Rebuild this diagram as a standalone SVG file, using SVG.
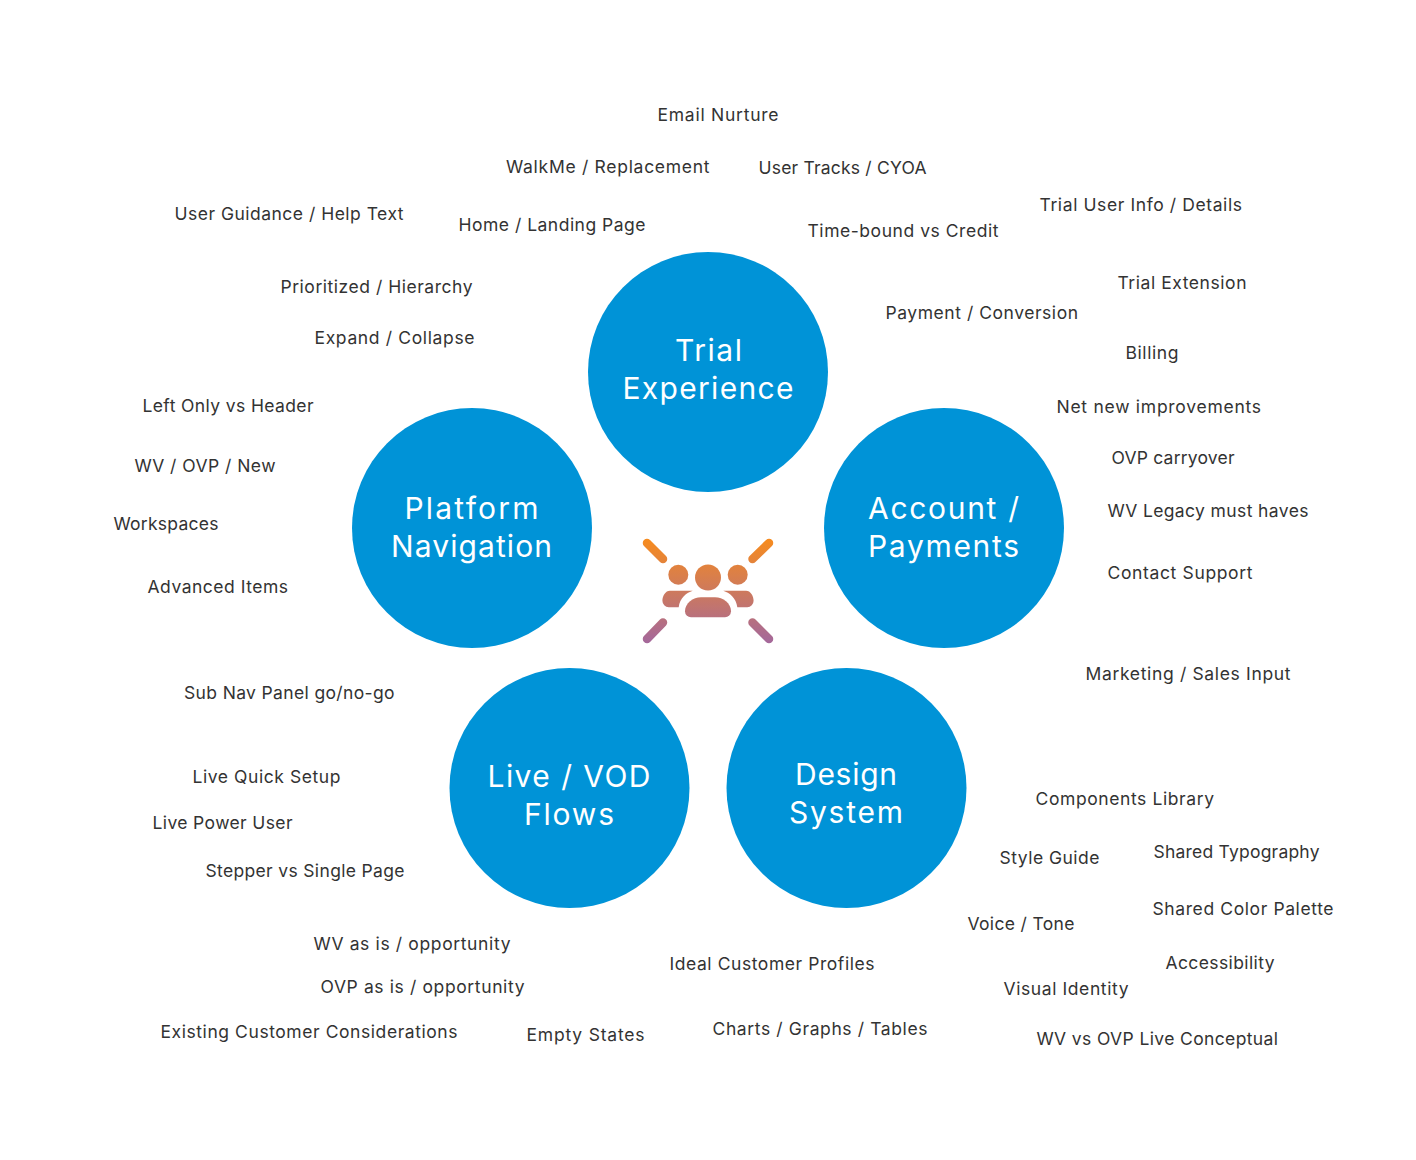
<svg xmlns="http://www.w3.org/2000/svg" width="1416" height="1160" viewBox="0 0 1416 1160">
<style>
.n{fill:#0093d7}
.t{font-family:"Inter","Open Sans","Liberation Sans",sans-serif;font-size:30px;fill:#fff;text-anchor:middle;font-weight:400}
.l{font-family:"Inter","Open Sans","Liberation Sans",sans-serif;font-size:17.5px;fill:#333;font-weight:400}
.s{fill:none;stroke:url(#g);stroke-width:8.500;stroke-linecap:round}
</style>
<defs><linearGradient id="g" gradientUnits="userSpaceOnUse" x1="708" y1="540" x2="708" y2="642"><stop offset="0" stop-color="#f68b1f"/><stop offset="1" stop-color="#a5689a"/></linearGradient></defs>
<rect width="1416" height="1160" fill="#fff"/>
<g id="connectors"></g>
<g id="node-trial"><circle class="n" cx="708" cy="372" r="120"/><text class="t" x="708.500" y="361" textLength="67">Trial</text><text class="t" x="708" y="399" textLength="171">Experience</text></g>
<g id="node-account"><circle class="n" cx="944" cy="528" r="120"/><text class="t" x="943.500" y="519" textLength="151">Account /</text><text class="t" x="943.500" y="557" textLength="151">Payments</text></g>
<g id="node-platform"><circle class="n" cx="472" cy="528" r="120"/><text class="t" x="471.500" y="519" textLength="134">Platform</text><text class="t" x="471.500" y="557" textLength="161">Navigation</text></g>
<g id="node-live"><circle class="n" cx="569.500" cy="788" r="120"/><text class="t" x="569" y="787" textLength="163">Live / VOD</text><text class="t" x="569" y="825" textLength="90">Flows</text></g>
<g id="node-design"><circle class="n" cx="846.500" cy="788" r="120"/><text class="t" x="846" y="785" textLength="102">Design</text><text class="t" x="846" y="823" textLength="114">System</text></g>
<g id="icon">
<path class="s" d="M647 543L663 559M769 543L752.500 559M663 622.500L647 639M752.500 622.500L769 639"/>
<g fill="url(#g)"><circle cx="708" cy="577.500" r="13"/><circle cx="678.300" cy="574.700" r="10"/><circle cx="737.700" cy="574.700" r="10"/>
<path d="M691 617.300a6 6 0 0 1-6-6c0-8 8-14 16-14h14c8 0 16 6 16 14a6 6 0 0 1-6 6z"/>
<path d="M670 590.700h22.700c-6 2-13 7-14 16.600h-10a6.500 6.500 0 0 1-6.300-6.500c0-5 3-10.100 7.600-10.100z"/>
<path d="M746 590.700h-22.700c6 2 13 7 14 16.600h10a6.500 6.500 0 0 0 6.300-6.500c0-5-3-10.100-7.600-10.100z"/></g>
</g>
<g id="labels">
<text class="l" x="657.500" y="121" textLength="121">Email Nurture</text>
<text class="l" x="506" y="173" textLength="203.500">WalkMe / Replacement</text>
<text class="l" x="758.500" y="174" textLength="168">User Tracks / CYOA</text>
<text class="l" x="174.500" y="220" textLength="229">User Guidance / Help Text</text>
<text class="l" x="458.500" y="231" textLength="187">Home / Landing Page</text>
<text class="l" x="807.500" y="237" textLength="191">Time-bound vs Credit</text>
<text class="l" x="1039.500" y="211" textLength="202.500">Trial User Info / Details</text>
<text class="l" x="1117.500" y="289" textLength="129">Trial Extension</text>
<text class="l" x="280.500" y="293" textLength="192">Prioritized / Hierarchy</text>
<text class="l" x="885.500" y="319" textLength="192.500">Payment / Conversion</text>
<text class="l" x="314.500" y="344" textLength="160">Expand / Collapse</text>
<text class="l" x="1125.500" y="359" textLength="53">Billing</text>
<text class="l" x="142.500" y="412" textLength="171">Left Only vs Header</text>
<text class="l" x="1056.500" y="413" textLength="204.500">Net new improvements</text>
<text class="l" x="134.500" y="472" textLength="141">WV / OVP / New</text>
<text class="l" x="1111.500" y="464" textLength="123">OVP carryover</text>
<text class="l" x="113.500" y="530" textLength="105">Workspaces</text>
<text class="l" x="1107.500" y="517" textLength="201">WV Legacy must haves</text>
<text class="l" x="1107.500" y="579" textLength="145">Contact Support</text>
<text class="l" x="147.500" y="593" textLength="140.500">Advanced Items</text>
<text class="l" x="1085.500" y="680" textLength="205">Marketing / Sales Input</text>
<text class="l" x="184" y="699" textLength="210.500">Sub Nav Panel go/no-go</text>
<text class="l" x="192.500" y="783" textLength="148">Live Quick Setup</text>
<text class="l" x="1035.500" y="805" textLength="178.500">Components Library</text>
<text class="l" x="152.500" y="829" textLength="140">Live Power User</text>
<text class="l" x="1153.500" y="858" textLength="166">Shared Typography</text>
<text class="l" x="999.500" y="864" textLength="100">Style Guide</text>
<text class="l" x="205.500" y="877" textLength="199">Stepper vs Single Page</text>
<text class="l" x="1152.500" y="915" textLength="181">Shared Color Palette</text>
<text class="l" x="967.500" y="930" textLength="107">Voice / Tone</text>
<text class="l" x="313.500" y="950" textLength="197">WV as is / opportunity</text>
<text class="l" x="669.500" y="970" textLength="205">Ideal Customer Profiles</text>
<text class="l" x="1165.500" y="969" textLength="109">Accessibility</text>
<text class="l" x="320.500" y="993" textLength="204">OVP as is / opportunity</text>
<text class="l" x="1003.500" y="995" textLength="125">Visual Identity</text>
<text class="l" x="160.500" y="1038" textLength="297">Existing Customer Considerations</text>
<text class="l" x="712.500" y="1035" textLength="215">Charts / Graphs / Tables</text>
<text class="l" x="526.500" y="1041" textLength="118">Empty States</text>
<text class="l" x="1036.500" y="1045" textLength="241.500">WV vs OVP Live Conceptual</text>
</g>
</svg>
